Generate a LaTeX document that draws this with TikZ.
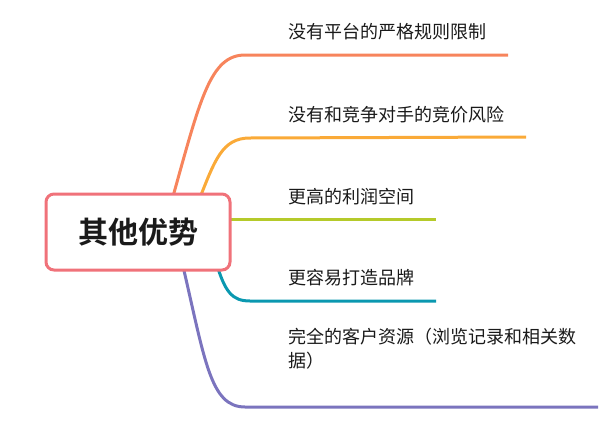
\documentclass[tikz,border=0pt]{standalone}
\usepackage{fontspec}
\setmainfont{Noto Sans CJK SC}[BoldFont={Noto Sans CJK SC Bold}]
\definecolor{cA}{HTML}{F7845C}
\definecolor{cB}{HTML}{FAAA38}
\definecolor{cC}{HTML}{B5CA2A}
\definecolor{cD}{HTML}{0A98B0}
\definecolor{cE}{HTML}{7B74BE}
\definecolor{cBox}{HTML}{F0727A}
\definecolor{txt}{HTML}{1A1A1A}
\tikzset{
  branch/.style={line width=3pt, line cap=butt},
  leaf/.style={anchor=base west, inner sep=0pt, text=txt, font=\fontsize{18}{24}\selectfont, align=left},
  rootbox/.style={draw=cBox, line width=3pt, fill=white, rounded corners=8pt,
    minimum width=184pt, minimum height=76pt, inner sep=0pt,
    font=\fontsize{30}{36}\selectfont\bfseries, text=txt}
}
\begin{document}
\begin{tikzpicture}[x=1pt,y=-1pt]
\useasboundingbox (0,0) rectangle (616,426);
% anchor coordinates for branch starts and ends
\coordinate (s1) at (172,200);
\coordinate (e1) at (508,55);
\coordinate (s2) at (199,200);
\coordinate (e2) at (526,137);
\coordinate (s3) at (225,219);
\coordinate (e3) at (436,219);
\coordinate (s4) at (216,262);
\coordinate (e4) at (436,301);
\coordinate (s5) at (182,262);
\coordinate (e5) at (598,407);
% branches
\draw[branch, cA] (s1) .. controls (200,100) and (210,55) .. (245,55) -- (e1);
\draw[branch, cB] (s2) .. controls (215,160) and (222,138) .. (250,138) -- (e2);
\draw[branch, cC] (s3) -- (e3);
\draw[branch, cD] (s4) .. controls (225,292) and (232,301) .. (250,301) -- (e4);
\draw[branch, cE] (s5) .. controls (205,360) and (210,407) .. (245,407) -- (e5);
% root
\node[rootbox] (root) at (138,232) {其他优势};
% leaves
\node[leaf] (l1) at (288,38) {没有平台的严格规则限制};
\node[leaf] (l2) at (288,121) {没有和竞争对手的竞价风险};
\node[leaf] (l3) at (288,203) {更高的利润空间};
\node[leaf] (l4) at (288,284) {更容易打造品牌};
\node[leaf] (l5) at (288,367) {完全的客户资源（浏览记录和相关数\\据）};
\end{tikzpicture}
\end{document}
